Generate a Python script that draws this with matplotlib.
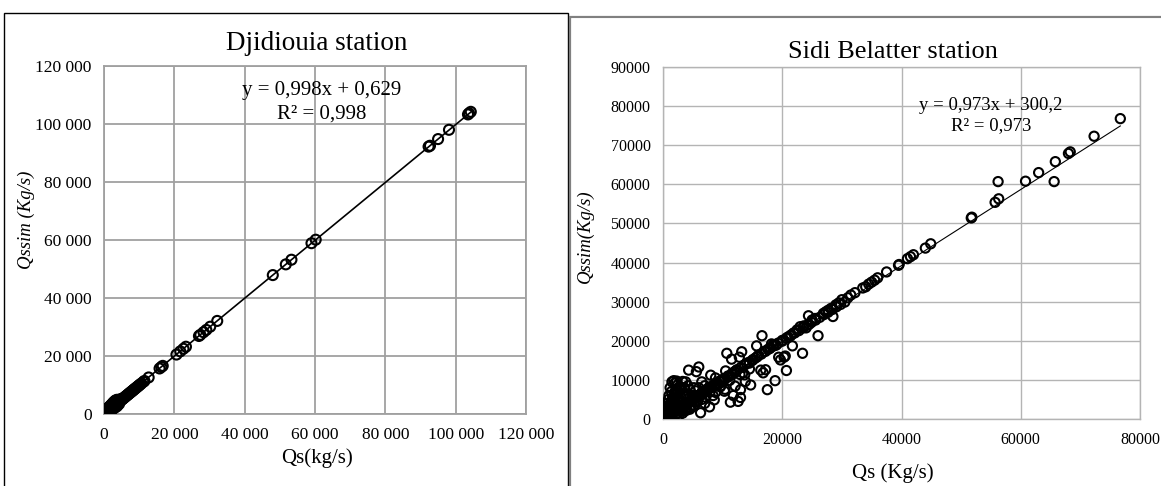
import matplotlib
matplotlib.use("Agg")
import matplotlib.pyplot as plt
from matplotlib.ticker import FuncFormatter, MultipleLocator
from matplotlib.patches import Rectangle

plt.rcParams['font.family'] = ['Liberation Serif', 'DejaVu Serif']

# ---------------- Djidiouia station data (observed Qs, simulated Qssim) ----------------
dj_qs = [104300, 103800, 103500, 98100, 95000, 92700, 92300, 60200, 59000, 53300,
         51700, 48000, 32200, 30200, 29100, 28300, 27400, 27000, 23300, 22600,
         21700, 20600, 16700, 16300, 15800, 12700, 11200, 10300, 9800, 9300,
         8800, 8400, 8000, 7600, 7200, 6800, 6400, 6000, 5600, 5300,
         5000, 4700, 4400, 4100, 3800, 3500, 3300, 3000, 2800, 2600,
         2400, 2200, 2000, 1800, 1600, 1400, 1200, 1000, 800, 600,
         400, 200, 100, 0, 3200, 2900, 2500, 2100, 1700, 1300,
         900, 500, 4300, 3900, 3600, 3000, 2300, 1500, 700, 300,
         5200, 5500, 5800, 6100, 6600, 7000, 7400, 7800, 8200, 8600,
         9000, 9500, 10000, 10600, 11500, 3100, 3400, 3700, 2700, 2400,
         2000, 1600, 1100, 700, 300, 150, 2900, 3300, 3600, 4000,
         4500, 4800, 1900, 1400, 1000, 600, 250, 3100, 2600, 2200]
dj_qsim = [104200, 103700, 103300, 98000, 94800, 92500, 92200, 60100, 58900, 53200,
           51600, 47900, 32100, 30100, 29000, 28200, 27300, 26900, 23200, 22500,
           21600, 20500, 16600, 16200, 15700, 12600, 11100, 10200, 9700, 9200,
           8700, 8300, 7900, 7500, 7100, 6700, 6300, 5900, 5500, 5200,
           4900, 4600, 4300, 4000, 3700, 3400, 3200, 2900, 2700, 2500,
           2300, 2100, 1900, 1700, 1500, 1300, 1100, 900, 700, 500,
           300, 100, 50, 0, 4400, 4100, 3700, 3200, 2700, 2200,
           1700, 1100, 3500, 3000, 2600, 2100, 1500, 800, 200, 0,
           5100, 5400, 5700, 6000, 6500, 6900, 7300, 7700, 8100, 8500,
           8900, 9400, 9900, 10500, 11400, 4500, 4700, 4900, 4000, 3500,
           3000, 2500, 1900, 1300, 700, 400, 3300, 3800, 4200, 4600,
           5000, 5100, 2600, 2000, 1500, 900, 350, 2600, 2000, 1600]
dj_slope, dj_intercept = 0.998, 0.629

# ---------------- Sidi Belatter station data ----------------
sb_qs = [76700, 72300, 68300, 68000, 65800, 65600, 63000, 60800, 56200, 56300,
         55700, 51800, 51700, 44900, 44000, 42000, 41500, 41000, 39600, 39500,
         37500, 36000, 35500, 35000, 34500, 34000, 33500, 32200, 31500, 31000,
         30000, 29500, 29000, 28500, 28200, 27700, 27300, 26900, 26000, 25500,
         25000, 24400, 24500, 24000, 23600, 23400, 23000, 22500, 21900, 21500,
         21700, 21000, 20700, 20500, 20300, 20000, 19700, 19400, 19000, 18800,
         18500, 18200, 18000, 17500, 17600, 17200, 17000, 16800, 16600, 16400,
         16000, 15700, 15500, 15000, 14700, 14500, 14000, 13700, 13400, 13200,
         13000, 13000, 12800, 12600, 12400, 12000, 11800, 11500, 11300, 11000,
         10700, 10500, 10300, 10000, 9700, 9500, 9000, 8800, 8600, 8400,
         8200, 8000, 7800, 7500, 7200, 7000, 6500, 6300, 6200, 6000,
         5800, 5600, 5500, 5200, 5000, 4800, 4500, 4300, 4200, 4000,
         3800, 3600, 3500, 3300, 3200, 3000, 2800, 2600, 2500, 2300,
         2200, 2000, 1800, 1700, 1500, 1400, 1300, 1200, 1000, 900,
         800, 700, 600, 500, 400, 300, 200, 100, 50, 0,
         12200, 11600, 11000, 10400, 9800, 9200, 8600, 8000, 7400, 6800,
         6200, 5600, 5000, 4400, 3800, 3200, 2600, 2000, 1400, 800,
         1000, 1500, 2000, 2500, 3000, 1200, 1800, 2400, 3000, 3600,
         600, 900, 1300, 1700, 2100, 2700, 3300, 3900, 4600, 5300,
         14500, 13800, 12900, 12100, 11200, 10400, 9600, 8800, 7900, 7100,
         500, 1100, 1600, 2100, 2700, 3300, 3900, 4600, 5300, 6000,
         6700, 7400, 8100, 8800, 9500, 10200, 10900, 11600, 12300, 13000,
         13700, 14400, 15100, 15800, 16500, 17200, 17900, 18600, 19300, 20000,
         20700, 21400, 22100, 22800, 23500, 24200, 24900, 25600, 26300, 27000,
         27700, 28400, 29100, 29800, 30500,
         300, 600, 800, 1000, 1200, 1500, 2000, 2500, 2000, 1600,
         1300, 2500, 3000, 3500, 3000, 2800, 2300, 1900, 1500, 1000,
         2500, 3000, 3500, 4000, 4500, 5000, 3800, 4500, 5000, 5500,
         6000, 6500, 7000, 2000, 1000, 700, 400, 4000, 6500, 7000]
sb_qsim = [76800, 72300, 68300, 67900, 65800, 60700, 63000, 60800, 60700, 56300,
           55400, 51600, 51400, 44800, 43700, 42000, 41500, 41000, 39500, 39300,
           37600, 36100, 35500, 35000, 34500, 33800, 33500, 32300, 31700, 31000,
           30500, 29700, 29200, 26200, 28300, 27800, 27400, 27000, 21300, 25700,
           25300, 26400, 24200, 23300, 23800, 16800, 23600, 22800, 22000, 21500,
           18700, 21000, 12400, 16100, 15800, 20100, 15100, 15800, 18900, 9800,
           19000, 19200, 18200, 7500, 17800, 12600, 17300, 11800, 21300, 12500,
           16300, 18700, 15600, 15000, 8700, 14300, 14200, 11300, 11800, 17200,
           7500, 5500, 15800, 4500, 12600, 12100, 6000, 15300, 4300, 10800,
           16800, 12300, 7100, 10000, 8500, 9700, 9100, 10500, 4900, 6000,
           8400, 11200, 3100, 7700, 6900, 7000, 6500, 1600, 6000, 13300,
           4500, 12100, 5500, 8000, 4700, 3500, 4500, 12500, 8500, 4200,
           9500, 6000, 3400, 9600, 2000, 3000, 8200, 5200, 2500, 9700,
           1200, 2000, 9800, 4500, 1500, 7000, 600, 1200, 1000, 5000,
           300, 700, 3200, 500, 200, 300, 1000, 100, 50, 0,
           12000, 11400, 10900, 10200, 9700, 9100, 8500, 7900, 7300, 6700,
           6100, 5500, 4900, 4300, 3700, 3100, 2500, 1900, 1300, 700,
           3500, 4800, 6200, 7200, 7800, 2400, 3600, 5000, 5800, 6500,
           1800, 2900, 4000, 5400, 6800, 1000, 1500, 2200, 2800, 3400,
           12800, 9600, 11400, 8400, 9900, 7600, 8200, 6800, 7000, 5600,
           900, 1500, 2100, 2600, 3000, 3500, 4100, 4700, 5400, 6100,
           6800, 7500, 8200, 8900, 9600, 10300, 11000, 11700, 12400, 13100,
           13800, 14500, 15200, 15900, 16600, 17300, 18000, 18700, 19400, 19900,
           20700, 21300, 22000, 22600, 23300, 24000, 24700, 25300, 26000, 26700,
           27300, 28000, 28700, 29300, 29900,
           1500, 2500, 4000, 6000, 8000, 9500, 9200, 8800, 7000, 5500,
           3800, 6500, 7500, 8000, 5500, 4000, 3000, 1800, 800, 400,
           1500, 2200, 2800, 3000, 2500, 3200, 6500, 7500, 6000, 7200,
           8000, 5000, 4000, 4500, 2800, 1200, 600, 5000, 9500, 8500]
sb_slope, sb_intercept = 0.973, 300.2

W, H = 1161, 486
fig = plt.figure(figsize=(W / 100, H / 100), dpi=100)


def px_axes(x0, y0, x1, y1):
    return fig.add_axes([x0 / W, 1 - y1 / H, (x1 - x0) / W, (y1 - y0) / H])


def ftext(x, y, s, **kw):
    fig.text(x / W, 1 - y / H, s, ha='center', va='center', **kw)


# panel frames
fig.patches.append(Rectangle((4 / W, -0.01), (568 - 4) / W, 1 - 13 / H + 0.01,
                             transform=fig.transFigure, fill=False, ec='black', lw=1.0))
fig.patches.append(Rectangle((570 / W, -0.01), 1.0, 1 - 17 / H + 0.01,
                             transform=fig.transFigure, fill=False, ec='#808080', lw=1.6))
fig.patches.append(Rectangle((571.5 / W, -0.01), 1.0, 1 - 18.5 / H + 0.01,
                             transform=fig.transFigure, fill=False, ec='white', lw=0.4))

# ---------------- left panel ----------------
ax1 = px_axes(104, 66, 526, 414)
ax1.scatter(dj_qs, dj_qsim, s=52, facecolors='none', edgecolors='black', linewidths=1.5, zorder=3)
xl = [0, max(dj_qs)]
ax1.plot(xl, [dj_slope * v + dj_intercept for v in xl], color='black', lw=1.2, zorder=2)
ax1.set_xlim(0, 120000)
ax1.set_ylim(0, 120000)
ax1.xaxis.set_major_locator(MultipleLocator(20000))
ax1.yaxis.set_major_locator(MultipleLocator(20000))
sp = FuncFormatter(lambda v, p: f"{int(v):,}".replace(",", " "))
ax1.xaxis.set_major_formatter(sp)
ax1.yaxis.set_major_formatter(sp)
ax1.grid(True, color='#A0A0A0', lw=1.3)
ax1.set_axisbelow(True)
for s in ax1.spines.values():
    s.set_color('#A0A0A0')
    s.set_linewidth(1.3)
ax1.tick_params(length=0, labelsize=12.5, pad=9)
ftext(317, 43, "Djidiouia station", fontsize=19.5)
ftext(317, 458, "Qs(kg/s)", fontsize=15)
fig.text(26 / W, 1 - 220 / H, "Qssim (Kg/s)", rotation=90, ha='center', va='center',
         fontsize=13.5, style='italic')
ftext(322, 90, "y = 0,998x + 0,629", fontsize=15)
ftext(322, 114, "R² = 0,998", fontsize=15)

# ---------------- right panel ----------------
ax2 = px_axes(663, 67, 1140, 419)
ax2.scatter(sb_qs, sb_qsim, s=44, facecolors='none', edgecolors='black', linewidths=1.5, zorder=3)
xr = [0, max(sb_qs)]
ax2.plot(xr, [sb_slope * v + sb_intercept for v in xr], color='black', lw=0.8, zorder=2)
ax2.set_xlim(0, 80000)
ax2.set_ylim(0, 90000)
ax2.xaxis.set_major_locator(MultipleLocator(20000))
ax2.yaxis.set_major_locator(MultipleLocator(10000))
ax2.xaxis.set_major_formatter(FuncFormatter(lambda v, p: f"{int(v)}"))
ax2.yaxis.set_major_formatter(FuncFormatter(lambda v, p: f"{int(v)}"))
ax2.grid(True, color='#B4B4B4', lw=1.0)
ax2.set_axisbelow(True)
for s in ax2.spines.values():
    s.set_color('#B4B4B4')
    s.set_linewidth(1.0)
ax2.tick_params(length=0, labelsize=11.5, pad=9)
ftext(893, 52, "Sidi Belatter station", fontsize=19)
ftext(893, 473, "Qs (Kg/s)", fontsize=15)
fig.text(585 / W, 1 - 236 / H, "Qssim(Kg/s)", rotation=90, ha='center', va='center',
         fontsize=13.5, style='italic')
ftext(991, 105, "y = 0,973x + 300,2", fontsize=13.5)
ftext(991, 126, "R² = 0,973", fontsize=13.5)

fig.savefig("out.png", dpi=100)
